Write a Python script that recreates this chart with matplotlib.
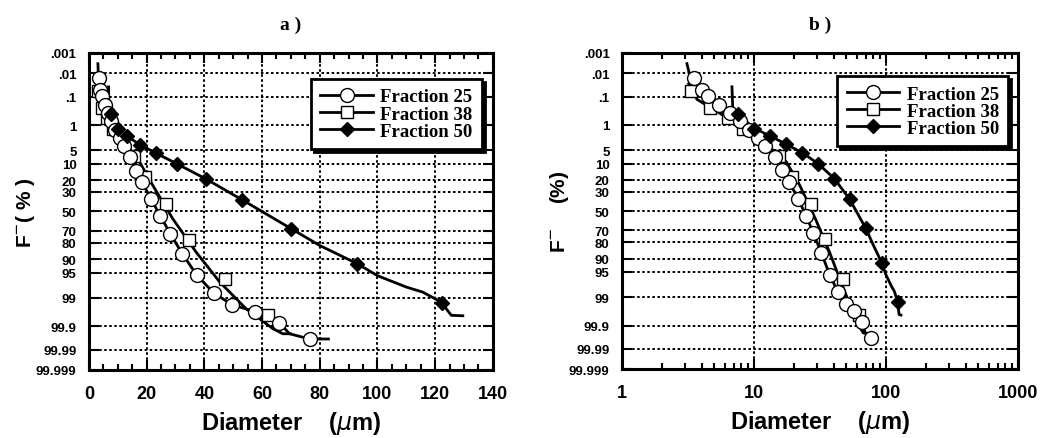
import numpy as np
import matplotlib
matplotlib.use("Agg")
import matplotlib.pyplot as plt
from matplotlib.lines import Line2D
from matplotlib.ticker import FixedLocator, NullLocator, MultipleLocator, LogLocator, NullFormatter
from statistics import NormalDist

# measured points (diameter in um, cumulative F- in %)
d25 = [3.5, 4.0, 4.5, 5.4, 6.6, 7.8, 9.2, 10.8, 12.2, 14.4, 16.2, 18.5, 21.5, 24.8,
       28.2, 32.4, 37.4, 43.3, 49.7, 57.6, 66.0, 76.5]
p25 = [0.017, 0.055, 0.094, 0.21, 0.40, 0.73, 1.4, 2.4, 3.9, 7.2, 13.6, 21.7, 36.8, 55,
       72.7, 87.3, 95.7, 98.6, 99.4, 99.65, 99.86, 99.97]

d38 = [3.3, 4.6, 6.3, 8.2, 15.5, 19.5, 26.8, 34.6, 47.0, 62.0]
p38 = [0.058, 0.27, 0.6, 1.3, 6.7, 18, 42, 77.5, 96.6, 99.74]

d50 = [7.6, 10.0, 13.1, 17.6, 23.2, 30.5, 40.5, 53.0, 70.2, 93.0, 122.5]
p50 = [0.44, 1.3, 2.1, 3.6, 5.8, 10, 19, 37.5, 68, 92, 99.3]

# continuous distribution curves
l25_d = [3.1, 3.3, 4.0, 4.5, 5.4, 6.6, 7.8, 9.2, 10.8, 12.2, 14.4, 16.2, 18.5, 21.5, 24.8,
         28.2, 32.4, 37.4, 43.3, 49.7, 57.6, 66.0, 69.5, 76.5, 83.0]
l25_p = [0.0035, 0.017, 0.055, 0.094, 0.21, 0.40, 0.73, 1.4, 2.4, 3.9, 7.2, 13.6, 21.7, 36.8, 55,
         72.7, 87.3, 95.7, 98.6, 99.4, 99.65, 99.86, 99.95, 99.97, 99.97]

l38_d = [3.2, 3.7, 7.1, 11.8, 17.6, 22.2, 29.1, 37.2, 45.3, 54.5, 63.8, 67.2, 69.8]
l38_p = [0.03, 0.13, 0.82, 3.1, 9.3, 24.4, 58, 86.4, 97.1, 99.56, 99.92, 99.95, 99.95]

l50_d = [6.8, 6.9, 7.6, 10.0, 13.1, 17.6, 23.2, 30.5, 40.5, 53.0, 70.2, 80, 93.0, 100,
         110, 115.7, 122, 125.6, 129.6]
l50_p = [0.04, 0.3, 0.44, 1.3, 2.1, 3.6, 5.8, 10, 19, 37.5, 68, 82, 92, 95.8,
         97.9, 98.5, 99.25, 99.74, 99.75]

yticks = [0.001, 0.01, 0.1, 1, 5, 10, 20, 30, 50, 70, 80, 90, 95, 99, 99.9, 99.99, 99.999]
ytick_labels = ['.001', '.01', '.1', '1', '5', '10', '20', '30', '50', '70', '80', '90',
                '95', '99', '99.9', '99.99', '99.999']

nd = NormalDist()


def prob_fwd(p):
    p = np.clip(np.asarray(p, dtype=float), 1e-9, 100 - 1e-9)
    return np.vectorize(lambda v: nd.inv_cdf(v / 100.0), otypes=[float])(p)


def prob_inv(z):
    z = np.clip(np.asarray(z, dtype=float), -30, 30)
    return np.vectorize(lambda v: nd.cdf(v) * 100.0, otypes=[float])(z)


SANS = ['Liberation Sans', 'DejaVu Sans']
SERIF = ['Liberation Serif', 'DejaVu Serif']
grid_ls = (0, (1.3, 1.3))
LW = 2.0


def draw_panel(ax, title, ylabel, legend_anchor, ylabel_x):
    ax.set_yscale('function', functions=(prob_fwd, prob_inv))

    ax.plot(l25_d, l25_p, color='k', lw=LW, zorder=3)
    ax.plot(l38_d, l38_p, color='k', lw=LW, zorder=3)
    ax.plot(l50_d, l50_p, color='k', lw=LW, zorder=3)
    ax.plot(d38, p38, ls='none', marker='s', ms=9, mfc='white', mec='k', mew=1.0, zorder=4)
    ax.plot(d25, p25, ls='none', marker='o', ms=10, mfc='white', mec='k', mew=1.0, zorder=5)
    ax.plot(d50, p50, ls='none', marker='D', ms=7, mfc='k', mec='k', zorder=6)

    ax.set_ylim(99.999, 0.001)
    ax.yaxis.set_major_locator(FixedLocator(yticks))
    ax.yaxis.set_minor_locator(NullLocator())
    ax.set_yticklabels(ytick_labels)

    ax.grid(True, which='major', color='k', lw=1.4, ls=grid_ls)
    ax.tick_params(which='both', direction='in', top=True, right=True, width=1.5)
    ax.tick_params(which='major', length=7)
    ax.tick_params(which='minor', length=4)
    ax.tick_params(axis='x', pad=11)
    ax.tick_params(axis='y', pad=9)
    for lab in ax.get_xticklabels():
        lab.set_fontfamily(SANS)
        lab.set_fontweight('bold')
        lab.set_fontsize(13)
    for lab in ax.get_yticklabels():
        lab.set_fontfamily(SANS)
        lab.set_fontweight('bold')
        lab.set_fontsize(9.5)
    for sp in ax.spines.values():
        sp.set_linewidth(2.2)

    ax.set_xlabel('Diameter    ($\\mu$m)', fontfamily=SANS, fontweight='bold',
                  fontsize=17, labelpad=5)
    ax.set_ylabel(ylabel, fontfamily=SANS, fontweight='bold', fontsize=15)
    ax.yaxis.set_label_coords(ylabel_x, 0.5)
    ax.set_title(title, fontfamily=SERIF, fontweight='bold', fontsize=14, pad=17)

    handles = [
        Line2D([], [], color='k', lw=LW, marker='o', ms=10, mfc='white', mec='k'),
        Line2D([], [], color='k', lw=LW, marker='s', ms=9, mfc='white', mec='k'),
        Line2D([], [], color='k', lw=LW, marker='D', ms=7, mfc='k', mec='k'),
    ]
    leg = ax.legend(handles, ['Fraction 25', 'Fraction 38', 'Fraction 50'],
                    loc='upper right', bbox_to_anchor=legend_anchor, borderaxespad=0,
                    frameon=True, fancybox=False, shadow={'color': 'k', 'alpha': 1},
                    prop={'family': SERIF, 'size': 13.5, 'weight': 'bold'},
                    labelspacing=0.0, handlelength=2.8, handletextpad=0.4, borderpad=0.5)
    leg.get_frame().set_edgecolor('k')
    leg.get_frame().set_linewidth(2.0)
    leg.set_zorder(10)


fig = plt.figure(figsize=(10.49, 4.39), dpi=100)
ax_a = fig.add_axes([0.0848, 0.155, 0.385, 0.722])
ax_b = fig.add_axes([0.593, 0.157, 0.3775, 0.720])

# a) linear diameter
ax_a.set_xlim(0, 140)
ax_a.xaxis.set_major_locator(MultipleLocator(20))
ax_a.xaxis.set_minor_locator(MultipleLocator(5))
draw_panel(ax_a, 'a )', 'F$^{-}$( % )', (0.973, 0.918), -0.128)

# b) log diameter
ax_b.set_xscale('log')
ax_b.set_xlim(1, 1000)
ax_b.xaxis.set_major_locator(LogLocator(base=10))
ax_b.xaxis.set_minor_locator(LogLocator(base=10, subs=np.arange(2, 10)))
ax_b.xaxis.set_minor_formatter(NullFormatter())
ax_b.set_xticks([1, 10, 100, 1000])
ax_b.set_xticklabels(['1', '10', '100', '1000'])
draw_panel(ax_b, 'b )', 'F$^{-}$    (%)', (0.975, 0.927), -0.129)

fig.savefig('out.png', dpi=100)
